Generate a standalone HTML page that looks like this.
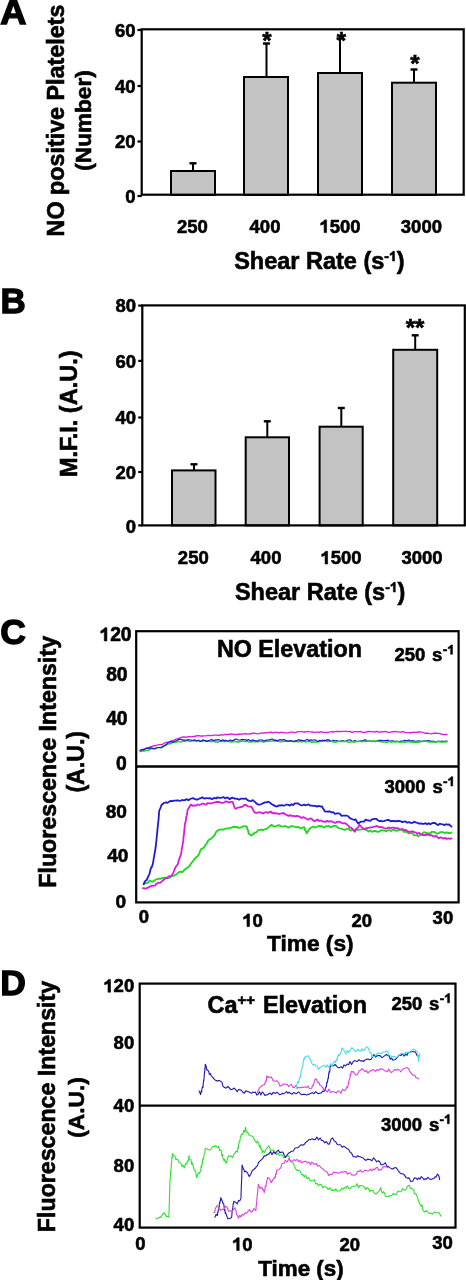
<!DOCTYPE html>
<html><head><meta charset="utf-8"><style>
html,body{margin:0;padding:0;background:#fff;}
body{width:466px;height:1280px;overflow:hidden;}
svg{display:block;will-change:transform;}
text{font-family:"Liberation Sans", sans-serif;font-weight:bold;fill:#000;stroke:#000;stroke-width:0.6px;}
.one{fill:none;stroke:none;}
.g1{fill:#000;stroke:#000;stroke-width:0.6px;vector-effect:non-scaling-stroke;}
</style></head><body>
<svg width="466" height="1280" viewBox="0 0 466 1280">
<text transform="translate(0,24.2) scale(1.05,1)" x="0.3" y="0" font-size="34.5" style="stroke-width:1.4px">A</text>
<text transform="translate(64,120.5) rotate(-90)" font-size="23.3" text-anchor="middle">NO positive Platelets</text>
<text transform="translate(91,120.5) rotate(-90)" font-size="22.6" text-anchor="middle">(Number)</text>
<rect x="171" y="171" width="44" height="24" fill="#c3c3c3" stroke="#000" stroke-width="2"/>
<line x1="193" y1="171" x2="193" y2="163.3" stroke="#000" stroke-width="2"/>
<line x1="189.5" y1="163.3" x2="196.5" y2="163.3" stroke="#000" stroke-width="2.4"/>
<rect x="244" y="77" width="44" height="118" fill="#c3c3c3" stroke="#000" stroke-width="2"/>
<line x1="266.5" y1="77" x2="266.5" y2="43.5" stroke="#000" stroke-width="2"/>
<line x1="263.0" y1="43.5" x2="270.0" y2="43.5" stroke="#000" stroke-width="2.4"/>
<rect x="318" y="73" width="44" height="122" fill="#c3c3c3" stroke="#000" stroke-width="2"/>
<line x1="340" y1="73" x2="340" y2="38.5" stroke="#000" stroke-width="2"/>
<line x1="336.5" y1="38.5" x2="343.5" y2="38.5" stroke="#000" stroke-width="2.4"/>
<rect x="392" y="82.7" width="44" height="112.3" fill="#c3c3c3" stroke="#000" stroke-width="2"/>
<line x1="414" y1="82.7" x2="414" y2="69.5" stroke="#000" stroke-width="2"/>
<line x1="410.5" y1="69.5" x2="417.5" y2="69.5" stroke="#000" stroke-width="2.4"/>
<rect x="141.7" y="29.3" width="322" height="165.4" fill="none" stroke="#000" stroke-width="2.2"/>
<line x1="137.5" y1="30" x2="141.7" y2="30" stroke="#000" stroke-width="2.2"/>
<line x1="137.5" y1="86" x2="141.7" y2="86" stroke="#000" stroke-width="2.2"/>
<line x1="137.5" y1="141.5" x2="141.7" y2="141.5" stroke="#000" stroke-width="2.2"/>
<line x1="137.5" y1="196" x2="141.7" y2="196" stroke="#000" stroke-width="2.2"/>
<text x="135.5" y="36.8" font-size="18.5" text-anchor="end" >60</text>
<text x="135.5" y="92.6" font-size="18.5" text-anchor="end" >40</text>
<text x="135.5" y="148" font-size="18.5" text-anchor="end" >20</text>
<text x="135.5" y="202.6" font-size="18.5" text-anchor="end" >0</text>
<text x="267" y="48.5" font-size="24" text-anchor="middle" >*</text>
<text x="341.3" y="49" font-size="24" text-anchor="middle" >*</text>
<text x="415" y="72" font-size="24" text-anchor="middle" >*</text>
<text x="192.4" y="232.6" font-size="18.5" text-anchor="middle" >250</text>
<text x="265" y="232.6" font-size="18.5" text-anchor="middle" >400</text>
<text x="340" y="232.6" font-size="18.5" text-anchor="middle" ><tspan class="one">1</tspan>500</text>
<text x="421.4" y="232.6" font-size="18.5" text-anchor="middle" >3000</text>
<text x="319.4" y="269" font-size="23.5" text-anchor="middle">Shear Rate (s<tspan font-size="14" dy="-8">-<tspan class="one">1</tspan></tspan><tspan dy="8">)</tspan></text>
<text x="0.5" y="313.2" font-size="35" text-anchor="start" style="stroke-width:1.3px">B</text>
<text transform="translate(76.5,413.8) rotate(-90)" font-size="23.5" text-anchor="middle">M.F.I. (A.U.)</text>
<rect x="172" y="470.4" width="43.5" height="55.0" fill="#c3c3c3" stroke="#000" stroke-width="2"/>
<line x1="194" y1="470.4" x2="194" y2="464.3" stroke="#000" stroke-width="2"/>
<line x1="190.5" y1="464.3" x2="197.5" y2="464.3" stroke="#000" stroke-width="2.4"/>
<rect x="245.7" y="437.3" width="43.30000000000001" height="88.09999999999997" fill="#c3c3c3" stroke="#000" stroke-width="2"/>
<line x1="267.3" y1="437.3" x2="267.3" y2="421.3" stroke="#000" stroke-width="2"/>
<line x1="263.8" y1="421.3" x2="270.8" y2="421.3" stroke="#000" stroke-width="2.4"/>
<rect x="319.6" y="426.7" width="43.099999999999966" height="98.69999999999999" fill="#c3c3c3" stroke="#000" stroke-width="2"/>
<line x1="341.3" y1="426.7" x2="341.3" y2="408" stroke="#000" stroke-width="2"/>
<line x1="337.8" y1="408" x2="344.8" y2="408" stroke="#000" stroke-width="2.4"/>
<rect x="393.2" y="349.8" width="44.0" height="175.59999999999997" fill="#c3c3c3" stroke="#000" stroke-width="2"/>
<line x1="415.2" y1="349.8" x2="415.2" y2="335.3" stroke="#000" stroke-width="2"/>
<line x1="411.7" y1="335.3" x2="418.7" y2="335.3" stroke="#000" stroke-width="2.4"/>
<rect x="142.3" y="305.4" width="322.5" height="220" fill="none" stroke="#000" stroke-width="2.2"/>
<line x1="138.2" y1="305.6" x2="142.3" y2="305.6" stroke="#000" stroke-width="2.2"/>
<line x1="138.2" y1="360.9" x2="142.3" y2="360.9" stroke="#000" stroke-width="2.2"/>
<line x1="138.2" y1="417.5" x2="142.3" y2="417.5" stroke="#000" stroke-width="2.2"/>
<line x1="138.2" y1="472" x2="142.3" y2="472" stroke="#000" stroke-width="2.2"/>
<line x1="138.2" y1="525.4" x2="142.3" y2="525.4" stroke="#000" stroke-width="2.2"/>
<text x="136" y="312.4" font-size="18.5" text-anchor="end" >80</text>
<text x="136" y="367.6" font-size="18.5" text-anchor="end" >60</text>
<text x="136" y="424" font-size="18.5" text-anchor="end" >40</text>
<text x="136" y="478.6" font-size="18.5" text-anchor="end" >20</text>
<text x="136" y="532.5" font-size="18.5" text-anchor="end" >0</text>
<text x="415" y="336.2" font-size="24" text-anchor="middle" >**</text>
<text x="193.3" y="564" font-size="18.5" text-anchor="middle" >250</text>
<text x="266" y="564" font-size="18.5" text-anchor="middle" >400</text>
<text x="341" y="564" font-size="18.5" text-anchor="middle" ><tspan class="one">1</tspan>500</text>
<text x="422" y="564" font-size="18.5" text-anchor="middle" >3000</text>
<text x="320.2" y="600" font-size="23.5" text-anchor="middle">Shear Rate (s<tspan font-size="14" dy="-8">-<tspan class="one">1</tspan></tspan><tspan dy="8">)</tspan></text>
<text x="0.2" y="644.3" font-size="35.5" text-anchor="start" style="stroke-width:1.3px">C</text>
<text transform="translate(55.5,761.8) rotate(-90)" font-size="23.25" text-anchor="middle">Fluorescence Intensity</text>
<text transform="translate(83.5,761.8) rotate(-90)" font-size="23.1" text-anchor="middle">(A.U.)</text>
<rect x="136.2" y="631.2" width="322.4" height="271.2" fill="none" stroke="#000" stroke-width="2.2"/>
<line x1="136.2" y1="766.5" x2="458.6" y2="766.5" stroke="#000" stroke-width="2.4"/>
<text x="131.6" y="641" font-size="19.3" text-anchor="end" ><tspan class="one">1</tspan>20</text>
<text x="127.6" y="680.8" font-size="19.3" text-anchor="end" >80</text>
<text x="127.6" y="725" font-size="19.3" text-anchor="end" >40</text>
<text x="126.8" y="769.6" font-size="19.3" text-anchor="end" >0</text>
<text x="126.9" y="817.6" font-size="19.1" text-anchor="end" >80</text>
<text x="128.4" y="862.3" font-size="19.1" text-anchor="end" >40</text>
<text x="126.1" y="908.3" font-size="19.1" text-anchor="end" >0</text>
<text x="289.4" y="657.1" font-size="23.3" text-anchor="middle" >NO Elevation</text>
<text x="394.5" y="661.3" font-size="18.5" text-anchor="start">250<tspan dx="1.6"> s</tspan><tspan font-size="13.5" dy="-7" dx="0.3">-<tspan class="one">1</tspan></tspan></text>
<text x="384.5" y="793" font-size="18.5" text-anchor="start">3000<tspan dx="1.6"> s</tspan><tspan font-size="13.5" dy="-7" dx="0.3">-<tspan class="one">1</tspan></tspan></text>
<text x="143.8" y="923.4" font-size="18.5" text-anchor="middle" >0</text>
<text x="252.6" y="926.6" font-size="18.5" text-anchor="middle" ><tspan class="one">1</tspan>0</text>
<text x="361.8" y="926.5" font-size="18.5" text-anchor="middle" >20</text>
<text x="442.9" y="924.3" font-size="18.5" text-anchor="middle" >30</text>
<text x="310.3" y="950.5" font-size="22.7" text-anchor="middle">Time (s)</text>
<polyline points="140.2,750.6 141.7,749.9 143.2,749.2 144.7,749.1 146.2,748.2 147.7,748.0 149.2,747.4 150.7,746.6 152.2,746.4 153.9,745.7 155.6,745.7 157.4,745.1 159.1,744.6 160.8,744.6 162.5,744.4 164.2,743.2 165.9,742.5 167.6,742.2 169.3,741.9 171.0,741.1 172.7,740.3 174.4,740.2 176.2,738.9 177.9,738.8 179.6,737.9 181.3,737.4 183.0,737.0 184.8,737.0 186.5,737.3 188.2,736.7 189.9,736.7 191.4,736.8 193.0,736.5 194.5,736.5 196.0,736.0 197.6,735.7 199.1,735.7 200.6,736.2 202.2,736.0 203.7,735.8 205.3,735.9 206.9,735.7 208.5,735.4 210.2,735.7 211.8,735.6 213.4,735.1 215.0,735.1 216.5,735.1 218.0,735.3 219.6,735.3 221.1,734.7 222.6,735.2 224.1,734.5 225.7,734.5 227.2,734.7 228.7,734.2 230.2,734.3 231.7,733.8 233.3,734.3 234.8,734.5 236.3,734.3 237.8,734.5 239.3,734.0 240.9,734.1 242.4,734.0 243.9,733.9 245.4,733.7 247.0,734.0 248.5,734.1 250.0,733.7 251.5,733.7 253.0,733.0 254.5,733.4 256.1,733.5 257.6,733.8 259.1,733.7 260.6,733.1 262.1,733.0 263.6,733.2 265.2,732.6 266.7,732.8 268.2,732.6 269.7,732.4 271.2,732.2 272.7,732.9 274.2,732.4 275.8,732.4 277.3,732.4 278.8,732.9 280.3,732.3 281.8,732.4 283.3,732.5 284.8,732.8 286.4,732.9 287.9,732.9 289.4,732.3 290.9,732.2 292.4,732.1 293.9,732.5 295.5,732.7 297.0,731.9 298.5,731.7 300.0,731.6 301.5,731.6 303.0,731.8 304.5,732.0 306.1,731.8 307.6,731.4 309.1,731.7 310.6,731.8 312.1,732.0 313.6,732.4 315.2,732.3 316.7,732.1 318.2,732.2 319.7,732.2 321.2,731.6 322.7,732.3 324.2,732.4 325.8,732.5 327.3,732.5 328.8,732.1 330.3,731.9 331.8,731.6 333.3,732.0 334.8,731.6 336.4,731.4 337.9,731.5 339.4,731.5 340.9,731.7 342.4,731.4 343.9,731.3 345.5,731.4 347.0,731.4 348.5,731.7 350.0,731.4 351.5,732.2 353.0,732.2 354.5,731.7 356.1,731.6 357.6,731.7 359.1,731.7 360.6,731.5 362.1,732.1 363.6,732.5 365.2,732.1 366.7,732.0 368.2,731.5 369.7,731.4 371.2,731.6 372.7,731.6 374.2,732.1 375.8,731.6 377.3,731.3 378.8,732.1 380.3,732.0 381.8,731.6 383.3,731.8 384.8,731.4 386.4,731.7 387.9,732.3 389.4,732.4 390.9,732.2 392.4,731.7 393.9,731.7 395.5,731.4 397.0,731.9 398.5,731.9 400.0,732.1 401.5,731.8 403.0,731.6 404.5,732.2 406.0,732.6 407.5,732.6 409.0,732.7 410.5,732.7 412.0,732.7 413.5,732.2 415.0,732.4 416.5,732.3 418.0,732.0 419.5,731.9 421.0,732.2 422.5,732.3 424.0,732.8 425.5,733.3 427.0,733.0 428.5,733.4 430.0,733.7 431.5,733.8 433.1,733.4 434.6,733.2 436.2,733.2 437.7,733.3 439.3,733.4 440.8,733.9 442.4,734.5 443.9,734.7 445.5,734.5 447.0,734.5" fill="none" stroke="#d81cd8" stroke-width="1.35" stroke-linejoin="round" stroke-linecap="round"/>
<polyline points="320.0,740.6 321.5,740.9 323.0,741.2 324.5,740.2 326.0,740.7 327.6,741.3 329.1,741.3 330.6,741.3 332.1,740.8 333.6,740.2 335.1,741.0 336.6,740.5 338.1,741.1 339.7,741.6 341.2,740.8 342.7,740.6 344.2,741.4 345.7,741.3 347.2,740.4 348.7,740.0 350.2,739.9 351.8,741.1 353.3,741.4 354.8,740.4 356.3,741.2 357.8,741.7 359.3,741.4 360.8,740.8 362.3,740.9 363.8,740.2 365.4,739.8 366.9,741.2 368.4,741.2 369.9,741.0 371.4,741.6 372.9,741.0 374.4,741.5 375.9,741.6 377.5,740.7 379.0,740.4 380.5,740.4 382.0,740.3 383.5,740.8 385.0,740.5 386.5,740.6 388.0,740.2 389.5,741.3 391.1,740.8 392.6,740.8 394.1,741.0 395.6,741.6 397.1,741.1 398.6,741.7 400.1,741.2 401.6,741.1 403.2,741.1 404.7,740.3 406.2,740.7 407.7,740.4 409.2,740.0 410.7,741.2 412.2,740.6 413.7,740.8 415.2,741.3 416.8,741.2 418.3,740.9 419.8,741.0 421.3,741.2 422.8,741.6 424.3,740.6 425.8,741.0 427.3,740.7 428.9,740.6 430.4,741.4 431.9,741.2 433.4,741.3 434.9,741.6 436.4,742.0 437.9,741.4 439.4,741.4 441.0,741.3 442.5,741.2 444.0,741.5 445.5,741.2 447.0,741.2" fill="none" stroke="#1c1cd0" stroke-width="1.2" stroke-linejoin="round" stroke-linecap="round"/>
<polyline points="140.2,751.5 141.7,751.2 143.2,750.7 144.7,750.9 146.2,750.4 147.7,750.2 149.2,750.0 150.7,748.8 152.2,748.6 153.9,748.9 155.6,748.8 157.4,747.9 159.1,747.4 160.8,747.5 162.5,746.3 164.2,745.6 165.9,744.5 167.6,744.3 169.3,743.8 171.0,743.7 172.7,742.5 174.5,742.5 176.2,742.2 177.9,741.3 179.6,741.8 181.3,741.9 183.1,741.0 184.8,741.4 186.5,740.8 188.0,740.8 189.5,741.4 191.0,741.4 192.5,740.7 194.0,740.8 195.5,741.0 197.0,740.8 198.5,740.6 200.0,740.8 201.5,741.3 203.0,740.7 204.5,741.1 206.0,741.2 207.5,740.7 209.0,741.0 210.5,741.5 212.0,741.5 213.5,741.0 215.0,742.0 216.5,742.1 218.0,742.3 219.6,741.4 221.1,741.2 222.6,740.9 224.1,741.7 225.6,741.4 227.1,741.1 228.7,741.3 230.2,742.0 231.7,742.1 233.2,741.5 234.7,741.1 236.2,741.9 237.8,741.8 239.3,741.9 240.8,741.2 242.3,740.9 243.8,741.6 245.4,741.5 246.9,741.1 248.4,741.9 249.9,741.9 251.4,742.1 252.9,741.3 254.5,741.9 256.0,741.2 257.5,741.9 259.0,741.6 260.5,741.4 262.1,741.6 263.6,742.1 265.1,741.5 266.6,741.1 268.1,741.5 269.6,741.2 271.2,741.0 272.7,741.0 274.2,740.8 275.7,741.0 277.2,741.2 278.8,741.2 280.3,741.8 281.8,741.4 283.3,741.5 284.8,741.2 286.3,741.3 287.9,740.9 289.4,741.1 290.9,740.8 292.4,741.6 293.9,741.7 295.4,741.2 297.0,741.4 298.5,742.1 300.0,741.3 301.5,741.9 303.0,741.6 304.5,741.6 306.0,742.0 307.5,741.6 309.0,741.6 310.5,741.8 312.0,742.3 313.5,741.7 315.0,742.0 316.5,742.0 318.0,741.9 319.5,741.6 321.0,741.4 322.5,741.0 324.0,741.0 325.5,740.9 327.0,741.7 328.5,741.4 330.0,741.1 331.5,741.0 333.0,741.8 334.5,742.2 336.0,742.0 337.5,741.5 339.0,741.3 340.5,741.3 342.0,741.5 343.5,741.2 345.0,741.4 346.5,741.3 348.0,742.1 349.5,742.4 351.0,742.0 352.5,741.5 354.0,742.2 355.5,741.6 357.0,741.5 358.5,741.0 360.0,741.3 361.5,741.5 363.0,741.6 364.5,741.3 366.0,741.6 367.5,741.1 369.0,741.2 370.5,741.0 372.0,741.3 373.5,741.0 375.0,740.9 376.5,741.2 378.0,741.2 379.5,741.6 381.0,741.7 382.5,742.0 384.0,742.0 385.5,742.1 387.0,742.3 388.5,741.8 390.0,741.5 391.5,742.2 393.0,741.5 394.5,741.9 396.0,742.0 397.5,741.3 399.0,742.0 400.5,742.3 402.0,742.1 403.5,742.1 405.0,742.3 406.5,741.5 408.0,741.7 409.5,741.7 411.0,742.1 412.5,742.3 414.0,742.3 415.5,742.1 417.0,742.3 418.5,742.2 420.0,742.1 421.5,741.6 423.0,741.1 424.5,741.1 426.0,741.4 427.5,741.2 429.0,742.0 430.5,741.9 432.0,742.0 433.5,742.0 435.0,742.1 436.5,741.9 438.0,741.2 439.5,741.9 441.0,742.1 442.5,741.9 444.0,741.9 445.5,742.0 447.0,741.8" fill="none" stroke="#1cd81c" stroke-width="1.5" stroke-linejoin="round" stroke-linecap="round"/>
<polyline points="140.2,750.6 141.7,749.5 143.2,750.1 144.7,749.2 146.2,748.3 147.7,748.1 149.2,748.7 150.7,747.7 152.2,748.1 153.9,748.7 155.6,748.0 157.4,747.5 159.1,747.5 160.8,747.8 162.5,747.1 164.2,746.0 165.9,745.1 167.6,743.1 169.3,741.9 171.0,741.6 172.7,742.1 174.5,741.2 176.2,741.1 177.9,739.7 179.6,739.3 181.3,739.4 183.1,740.1 184.8,740.2 186.5,740.1 188.2,739.7 189.9,740.0 191.6,740.2 193.3,740.3 195.0,739.9 196.5,741.0 198.1,740.2 199.6,741.2 201.2,741.5 202.7,739.9 204.2,740.2 205.8,740.9 207.3,741.4 208.8,740.6 210.4,740.0 211.9,739.6 213.5,740.8 215.0,739.9 216.5,740.2 218.0,739.6 219.6,740.0 221.1,741.0 222.6,739.8 224.1,740.6 225.6,740.4 227.1,741.0 228.7,740.8 230.2,739.9 231.7,740.8 233.2,740.4 234.7,739.4 236.2,739.0 237.8,739.8 239.3,740.0 240.8,739.8 242.3,739.4 243.8,739.6 245.4,739.7 246.9,740.6 248.4,739.5 249.9,740.4 251.4,740.9 252.9,739.8 254.5,740.8 256.0,740.8 257.5,741.1 259.0,740.1 260.5,740.0 262.1,739.9 263.6,741.0 265.1,740.6 266.6,740.1 268.1,740.0 269.6,739.7 271.2,739.2 272.7,739.1 274.2,740.4 275.7,739.9 277.2,740.9 278.8,740.0 280.3,739.7 281.8,740.0 283.3,739.6 284.8,739.8 286.3,740.9 287.9,741.1 289.4,741.1 290.9,740.7 292.4,741.1 293.9,741.3 295.4,740.7 297.0,740.8 298.5,739.6 300.0,740.4 301.5,740.2 303.0,740.7 304.5,740.7 306.0,740.0 307.5,739.4 309.0,740.8 310.5,739.8 312.0,740.1 313.5,740.0 315.0,739.9 316.5,740.7 318.0,741.4 319.5,740.4 321.0,740.7 322.5,740.2 324.0,740.5 325.5,740.4 327.0,739.9 328.5,739.7 330.0,740.6" fill="none" stroke="#1c1cd0" stroke-width="1.2" stroke-linejoin="round" stroke-linecap="round"/>
<polyline points="143.7,884.4 145.2,883.0 146.7,883.3 148.2,882.1 149.7,880.5 151.2,881.4 152.7,881.8 154.2,880.7 155.8,879.5 157.3,879.1 158.8,878.6 160.3,878.8 161.8,878.2 163.3,878.0 164.8,877.6 166.3,877.8 167.8,878.3 169.3,877.9 170.8,876.8 172.3,876.1 173.8,875.8 175.5,874.7 177.2,873.7 178.9,872.2 180.7,871.6 182.4,872.2 184.1,870.2 185.8,868.8 187.5,867.5 189.3,866.3 191.0,863.5 192.7,861.5 193.8,859.9 194.8,858.7 195.9,857.3 196.9,856.9 198.0,855.6 199.1,854.2 200.1,851.0 201.2,849.0 202.6,848.4 204.0,847.5 205.3,845.2 206.7,843.5 208.1,840.6 209.4,839.4 210.7,839.0 212.1,837.7 213.4,836.3 214.7,835.0 216.0,832.1 217.6,830.6 219.2,829.7 220.8,829.7 222.3,829.5 223.9,829.5 225.5,828.6 227.2,828.3 228.8,828.4 230.4,827.7 232.1,827.6 233.8,826.5 235.4,827.6 237.0,826.8 238.7,827.9 240.3,827.7 242.0,826.9 243.6,826.2 245.3,826.2 246.9,826.9 247.3,829.0 247.8,829.7 248.2,831.0 248.6,833.5 251.2,835.6 252.9,834.2 254.7,832.7 256.4,832.3 258.1,830.2 259.8,829.8 261.6,829.6 263.3,830.0 265.0,829.2 266.7,828.8 268.4,827.4 270.1,825.9 271.8,824.9 273.5,826.4 275.2,826.5 277.0,825.8 278.7,825.1 280.3,825.9 281.9,826.6 283.5,826.4 285.2,826.0 286.8,826.8 288.4,827.7 290.0,826.7 291.6,826.0 293.1,826.4 294.7,826.7 296.3,827.4 297.8,826.8 299.4,827.8 301.0,828.1 302.5,827.7 304.1,827.1 305.0,830.1 305.8,831.0 306.7,833.4 308.4,830.5 310.1,828.2 311.8,827.2 313.4,826.5 314.9,827.6 316.4,827.0 318.0,826.2 319.6,825.9 321.1,826.2 322.7,826.7 324.2,827.5 325.8,826.1 327.3,826.1 328.9,825.9 330.5,827.4 332.1,826.4 333.7,825.9 335.3,825.9 336.9,826.6 338.5,828.0 340.1,828.6 341.7,828.7 343.3,829.5 344.9,829.9 346.6,829.0 348.2,828.6 349.8,830.2 351.4,830.6 353.0,829.5 354.8,830.3 356.5,829.9 358.3,829.8 360.0,829.7 361.8,829.3 363.5,829.0 365.2,829.6 366.9,830.0 368.5,831.5 370.2,830.4 371.9,831.9 373.6,831.0 375.2,830.8 376.7,831.6 378.3,831.9 379.9,831.1 381.5,830.1 383.0,830.5 384.6,830.4 386.2,831.4 387.8,830.2 389.3,830.1 390.9,831.1 392.5,829.6 394.1,829.8 395.6,830.7 397.2,830.8 398.9,829.8 400.6,829.6 402.3,829.8 403.9,831.9 405.6,831.5 407.3,832.5 409.0,833.4 410.6,833.1 412.2,833.2 413.8,835.0 415.3,835.3 416.9,835.1 418.5,836.3 420.2,834.9 422.0,833.7 423.8,832.2 425.5,832.6 427.0,833.4 428.6,833.1 430.1,833.6 431.6,831.9 433.1,831.8 434.7,832.2 436.2,833.3 437.7,833.7 439.3,832.7 440.8,832.1 442.3,832.2 443.9,832.4 445.4,833.3 446.9,832.2 448.4,833.0 450.0,833.1 451.5,832.5" fill="none" stroke="#1cd81c" stroke-width="1.8" stroke-linejoin="round" stroke-linecap="round"/>
<polyline points="142.9,888.2 144.6,888.5 146.3,888.3 148.1,887.6 149.8,886.6 151.5,886.0 153.2,885.7 154.9,885.7 156.6,883.7 158.3,882.7 160.1,882.9 161.8,881.4 163.5,880.0 165.2,878.3 166.9,877.9 168.6,876.4 170.3,876.3 172.0,875.1 173.0,873.7 174.1,870.7 175.1,868.1 176.2,866.1 177.2,865.1 177.8,864.1 178.3,862.1 178.9,859.8 179.5,858.3 180.0,857.0 180.6,855.6 180.9,854.3 181.2,853.1 181.5,851.3 181.8,848.6 182.0,848.1 182.3,845.8 182.6,844.6 182.9,842.8 183.2,841.9 183.4,839.5 183.5,837.7 183.7,836.1 183.8,834.3 184.0,834.1 184.1,832.4 184.3,830.3 184.4,828.7 184.6,828.3 184.7,826.2 184.9,823.9 185.2,823.2 185.5,821.7 185.8,820.9 186.1,817.8 186.3,816.5 186.6,815.7 186.9,814.5 187.2,813.3 187.5,810.1 188.6,808.3 189.8,806.2 190.9,804.5 192.6,805.8 194.4,805.3 196.1,805.6 197.8,804.5 199.5,805.0 201.3,804.2 203.0,803.5 204.7,804.1 206.3,804.6 207.9,803.0 209.5,803.4 211.2,803.5 212.8,802.7 214.4,802.6 216.0,802.0 217.6,802.0 219.3,802.0 220.9,802.7 222.5,803.0 224.2,802.2 225.8,801.4 227.4,801.8 229.0,802.6 230.7,801.9 232.3,801.8 233.2,803.4 234.1,806.3 234.9,808.0 235.8,808.8 237.5,807.7 239.2,807.4 240.9,807.0 242.6,806.6 244.3,804.8 246.0,805.0 247.8,806.4 249.5,806.6 251.2,806.7 252.6,808.6 254.1,811.8 255.5,812.9 257.0,812.9 258.5,812.4 260.0,812.2 261.5,812.9 263.1,813.6 264.6,812.6 266.2,812.0 267.8,812.9 269.3,812.2 270.9,811.6 272.4,813.3 274.0,812.9 275.6,813.7 277.1,813.2 278.7,814.0 280.3,813.7 281.9,813.3 283.5,813.0 285.2,814.3 286.8,815.1 288.4,816.1 290.0,815.1 291.6,815.9 293.3,815.8 294.9,816.3 296.6,815.8 298.2,816.1 299.9,816.9 301.5,818.1 303.1,817.1 304.7,817.8 306.3,818.8 307.9,819.7 309.6,818.7 311.2,818.4 312.8,820.2 314.4,821.1 316.0,820.4 317.6,819.5 319.2,821.0 320.9,820.5 322.5,821.5 324.1,821.4 325.7,821.9 327.3,820.8 328.9,821.8 330.5,821.1 332.1,821.4 333.7,822.4 335.3,822.9 336.9,821.8 338.5,821.7 340.1,822.1 341.7,822.9 343.2,823.3 344.8,823.2 346.3,823.8 347.9,825.3 349.6,827.5 351.3,827.6 353.0,829.7 354.7,831.8 356.3,828.6 357.8,827.8 359.4,824.8 361.0,826.6 362.6,827.9 364.2,829.3 365.8,828.3 367.3,827.9 368.9,827.9 370.5,827.3 372.0,827.3 373.6,826.6 375.3,826.6 377.0,825.9 378.7,827.0 380.3,827.2 382.0,826.9 383.7,828.0 385.4,828.5 387.1,828.1 388.8,827.6 390.5,828.1 392.1,827.6 393.8,827.6 395.5,828.3 397.2,828.0 398.9,828.9 400.6,829.5 402.3,829.0 403.9,830.2 405.6,829.8 407.3,831.1 409.0,831.9 410.7,831.9 412.4,831.2 414.1,832.1 415.7,832.3 417.4,833.8 419.1,832.9 420.8,834.3 422.5,835.1 424.2,834.9 425.9,835.2 427.5,834.1 429.2,835.4 430.9,835.0 432.6,835.9 434.2,836.7 435.8,835.8 437.4,837.1 438.9,838.3 440.5,837.3 442.1,837.9 443.7,838.7 445.2,837.8 446.8,839.0 448.4,838.2 449.9,838.9 451.5,838.4" fill="none" stroke="#d81cd8" stroke-width="1.8" stroke-linejoin="round" stroke-linecap="round"/>
<polyline points="143.7,884.1 144.7,881.7 145.8,880.5 146.8,879.9 147.9,877.1 148.9,875.2 149.4,874.1 149.9,872.3 150.3,870.2 150.8,868.7 151.3,867.2 151.8,867.2 152.2,865.7 152.7,864.6 153.2,861.8 153.4,861.0 153.7,858.4 153.9,857.3 154.2,856.2 154.4,854.2 154.7,853.5 154.9,851.7 155.2,850.1 155.4,849.1 155.7,846.2 155.9,846.0 156.0,844.1 156.2,842.0 156.4,841.0 156.5,838.6 156.7,838.2 156.8,836.2 157.0,834.1 157.2,833.1 157.3,831.1 157.5,828.9 157.7,828.2 157.8,825.6 158.0,825.2 158.1,822.9 158.3,821.8 158.4,821.1 158.6,819.1 158.7,817.5 158.9,815.2 159.0,812.8 159.2,811.0 159.7,809.5 160.2,808.8 160.8,807.1 161.3,805.5 161.8,804.7 163.9,803.0 166.0,802.4 167.6,802.9 169.2,801.6 170.8,800.9 172.4,801.2 174.1,800.6 175.7,800.7 177.3,800.3 178.9,800.7 180.5,800.8 182.0,799.9 183.6,800.3 185.2,800.0 186.7,799.1 188.3,800.3 189.8,799.2 191.4,798.5 193.0,798.1 194.5,798.9 196.1,799.5 197.6,799.5 199.2,798.7 200.7,798.2 202.2,797.4 203.8,798.3 205.3,798.5 206.8,798.0 208.3,798.4 209.9,798.1 211.4,799.0 212.9,798.8 214.5,797.7 216.0,798.6 217.5,797.3 219.0,797.8 220.6,797.8 222.1,797.5 223.6,797.1 225.1,798.4 226.7,797.4 228.2,798.1 229.7,799.2 231.2,798.0 232.8,797.7 234.3,798.5 235.8,798.6 237.5,799.0 239.1,799.6 240.8,798.7 242.4,798.7 244.0,798.8 245.7,798.4 247.5,800.2 249.3,800.9 251.0,801.2 252.8,800.1 254.6,801.6 256.4,803.4 258.1,804.6 259.8,804.7 261.5,804.0 263.2,803.1 265.0,802.4 266.7,802.3 268.4,801.7 270.1,802.7 271.8,804.3 273.6,805.1 275.3,806.1 277.0,806.5 278.6,805.4 280.2,805.5 281.9,805.2 283.5,805.7 285.1,805.3 286.8,804.5 288.4,804.9 290.0,805.6 291.6,804.2 293.2,805.0 294.8,803.4 296.4,803.3 297.9,803.3 299.5,804.5 301.0,805.3 302.6,805.3 304.1,804.5 305.6,805.5 307.2,804.8 308.7,804.4 310.3,805.7 311.8,805.7 313.5,805.9 315.2,805.9 317.0,806.6 318.7,805.9 320.4,806.5 322.1,806.5 323.0,808.5 323.8,809.4 324.7,811.4 326.4,811.7 328.1,811.5 329.9,811.5 331.6,812.6 333.3,812.2 335.0,814.0 336.6,813.4 338.2,813.3 339.8,813.7 341.4,815.8 343.1,815.7 344.7,815.6 346.3,815.6 347.9,816.0 349.4,817.7 351.0,818.6 352.5,819.3 354.1,820.0 355.6,819.3 356.9,821.8 358.2,823.5 360.7,821.7 362.3,821.7 364.0,821.6 365.6,819.7 367.3,820.4 368.9,820.5 370.4,820.9 371.9,819.4 373.4,819.1 374.9,818.9 376.4,818.8 377.9,820.4 379.4,821.0 380.9,820.9 382.4,821.3 383.9,821.1 385.4,820.5 387.1,820.0 388.8,819.9 390.5,821.3 392.1,820.8 393.8,821.0 395.5,821.4 397.2,820.8 398.9,821.0 400.6,821.2 402.3,822.1 403.9,821.7 405.6,821.5 407.3,822.7 409.0,822.2 410.7,822.9 412.4,822.9 414.1,821.8 415.7,822.4 417.4,822.8 419.1,823.7 420.8,823.4 422.4,823.9 423.9,823.8 425.5,823.2 427.1,824.3 428.7,823.2 430.2,824.3 431.8,823.4 433.4,822.8 435.0,823.0 436.6,824.3 438.1,825.2 439.7,823.6 441.3,824.1 442.8,824.3 444.4,825.1 446.0,824.2 447.5,824.6 449.1,824.5 451.5,826.6" fill="none" stroke="#1c1cd0" stroke-width="1.8" stroke-linejoin="round" stroke-linecap="round"/>
<text x="0.2" y="994.8" font-size="35.5" text-anchor="start" style="stroke-width:1.3px">D</text>
<text transform="translate(55,1106.5) rotate(-90)" font-size="23.2" text-anchor="middle">Fluorescence Intensity</text>
<text transform="translate(83.5,1107.5) rotate(-90)" font-size="22.7" text-anchor="middle">(A.U.)</text>
<rect x="139.7" y="983.6" width="315.8" height="244" fill="none" stroke="#000" stroke-width="2.2"/>
<line x1="139.7" y1="1105.6" x2="455.5" y2="1105.6" stroke="#000" stroke-width="2.4"/>
<text x="134.2" y="992.2" font-size="18.5" text-anchor="end" ><tspan class="one">1</tspan>20</text>
<text x="134.2" y="1049.4" font-size="18.5" text-anchor="end" >80</text>
<text x="134.2" y="1112.2" font-size="18.5" text-anchor="end" >40</text>
<text x="134.2" y="1172" font-size="18.5" text-anchor="end" >80</text>
<text x="134.2" y="1231" font-size="18.5" text-anchor="end" >40</text>
<text x="207.5" y="1013.3" font-size="23.4">Ca<tspan font-size="15" dy="-8.5">++</tspan><tspan dy="8.5" dx="1.5"> Elevation</tspan></text>
<text x="391.5" y="1009.8" font-size="18.5" text-anchor="start">250<tspan dx="1.6"> s</tspan><tspan font-size="13.5" dy="-7" dx="0.3">-<tspan class="one">1</tspan></tspan></text>
<text x="381" y="1130.7" font-size="18.5" text-anchor="start">3000<tspan dx="1.6"> s</tspan><tspan font-size="13.5" dy="-7" dx="0.3">-<tspan class="one">1</tspan></tspan></text>
<text x="140.3" y="1250" font-size="18.5" text-anchor="middle" >0</text>
<text x="242.3" y="1250.5" font-size="18.5" text-anchor="middle" ><tspan class="one">1</tspan>0</text>
<text x="349.8" y="1251.3" font-size="18.5" text-anchor="middle" >20</text>
<text x="442.5" y="1249" font-size="18.5" text-anchor="middle" >30</text>
<text x="301" y="1276.3" font-size="22.4" text-anchor="middle">Time (s)</text>
<polyline points="199.0,1090.9 200.6,1094.6 201.1,1091.1 201.6,1092.3 202.0,1088.5 202.5,1086.9 203.0,1087.5 203.1,1085.4 203.3,1082.6 203.4,1083.2 203.6,1079.8 203.7,1081.1 203.9,1079.5 204.0,1078.5 204.2,1076.5 204.3,1074.2 204.4,1073.0 204.6,1071.7 204.7,1072.2 204.9,1067.8 205.0,1069.5 205.2,1064.9 205.3,1064.3 206.1,1066.1 206.9,1070.1 207.7,1070.1 208.6,1071.1 209.4,1074.5 210.3,1073.5 211.2,1075.9 212.8,1077.3 214.4,1079.4 216.0,1080.6 217.6,1080.9 219.1,1080.6 220.7,1081.2 221.9,1082.2 223.0,1086.4 224.2,1087.3 226.0,1088.2 227.8,1086.5 229.4,1088.0 230.9,1089.6 232.5,1089.3 234.1,1088.0 235.6,1089.7 237.2,1091.7 238.6,1089.5 240.0,1089.7 241.5,1090.5 242.9,1092.3 244.3,1093.2 245.7,1090.9 247.1,1091.2 248.6,1091.8 250.0,1092.4 251.4,1093.4 252.7,1092.0 254.1,1092.6 255.4,1092.1 256.8,1095.1 258.1,1094.2 259.5,1091.8 260.8,1095.1 262.2,1091.9 263.5,1093.1 264.9,1095.5 266.2,1094.9 267.6,1094.8 268.9,1093.8 270.3,1093.0 271.6,1094.7 273.0,1092.6 274.3,1092.9 275.7,1093.5 277.0,1092.1 278.4,1093.4 279.7,1094.8 281.1,1094.3 282.4,1093.4 283.8,1093.7 285.1,1092.9 286.5,1091.6 287.8,1093.2 289.2,1092.2 290.6,1093.6 292.0,1094.3 293.4,1092.5 294.8,1093.1 296.2,1093.8 297.6,1092.6 299.0,1092.0 300.5,1094.0 302.0,1094.7 303.5,1094.4 305.0,1094.2 306.5,1094.9 308.0,1094.4 309.5,1094.1 311.0,1093.3 312.5,1092.6 314.0,1093.7 315.5,1091.6 317.0,1092.7 318.5,1093.8 320.0,1093.2 321.5,1092.7 323.0,1090.9 324.5,1091.3 324.9,1090.1 325.2,1089.4 325.6,1087.3 326.0,1087.0 326.4,1086.6 326.8,1082.4 327.1,1082.9 327.5,1082.1 327.8,1079.2 328.0,1078.2 328.3,1078.7 328.6,1073.8 328.9,1074.3 329.1,1071.5 329.4,1072.5 329.7,1071.8 330.0,1068.8 330.2,1065.8 330.5,1066.3 332.0,1065.7 333.5,1065.8 335.0,1064.5 336.5,1066.0 338.1,1067.8 339.6,1067.6 341.1,1066.7 342.5,1068.2 344.0,1064.9 345.5,1066.0 347.0,1064.1 348.5,1064.7 350.0,1061.6 351.5,1064.6 353.0,1062.0 354.5,1060.6 356.0,1061.1 357.5,1061.4 359.0,1059.7 360.5,1060.9 362.0,1060.7 363.5,1061.5 365.0,1059.9 366.5,1059.4 368.0,1059.0 369.5,1059.8 371.0,1059.4 372.5,1056.7 374.0,1054.4 375.5,1057.0 377.0,1055.8 378.5,1055.5 380.0,1055.6 381.6,1057.4 383.2,1056.9 384.8,1055.6 386.4,1054.4 387.7,1055.8 389.0,1055.5 390.3,1059.3 391.6,1058.0 392.9,1060.1 394.5,1059.8 396.1,1058.9 397.7,1056.6 399.3,1054.9 400.9,1055.6 402.5,1053.7 404.1,1056.1 405.7,1053.9 407.0,1055.3 408.3,1052.6 409.6,1052.5 410.9,1051.5 412.2,1051.6 413.8,1051.7 415.4,1051.9 417.0,1055.6 418.6,1055.7" fill="none" stroke="#2018b0" stroke-width="1.1" stroke-linejoin="round" stroke-linecap="round"/>
<polyline points="257.3,1092.6 258.2,1090.3 259.1,1088.7 259.9,1087.4 260.8,1086.6 262.6,1085.2 264.4,1084.8 264.9,1083.6 265.4,1081.1 265.9,1081.9 266.4,1080.3 266.9,1075.9 267.4,1077.5 267.9,1076.4 269.6,1077.7 271.4,1077.0 273.2,1080.9 275.0,1081.3 276.8,1080.7 278.5,1082.4 280.0,1086.3 281.4,1085.5 282.9,1084.3 284.4,1084.0 285.8,1084.2 287.2,1084.5 288.6,1086.6 290.0,1085.0 291.5,1084.5 293.0,1087.6 294.5,1087.4 296.0,1085.3 297.5,1088.3 299.0,1087.4 300.5,1087.7 302.0,1086.9 303.5,1087.4 305.0,1086.7 306.5,1087.6 308.0,1086.0 309.5,1088.6 311.0,1088.7 311.8,1088.0 312.5,1085.4 313.2,1085.6 314.0,1082.8 314.8,1080.2 315.5,1078.6 316.6,1079.7 317.8,1082.6 318.9,1082.4 320.0,1085.5 321.5,1085.7 323.0,1088.5 324.5,1090.0 326.0,1090.5 327.5,1092.0 329.0,1089.1 330.5,1092.6 332.0,1091.5 333.5,1091.8 335.0,1092.2 336.5,1092.9 338.0,1091.1 339.5,1091.3 341.0,1093.4 342.5,1089.2 344.0,1090.6 345.5,1089.9 347.0,1086.8 347.4,1087.6 347.7,1086.5 348.1,1086.1 348.4,1082.4 348.8,1083.5 349.1,1080.3 349.5,1078.8 349.8,1079.0 350.2,1074.4 350.5,1075.6 350.9,1073.8 351.2,1071.4 351.6,1072.0 353.1,1071.6 354.5,1073.4 356.0,1075.1 357.5,1074.5 359.0,1070.9 360.5,1070.3 362.0,1068.7 363.5,1070.0 365.0,1071.7 366.5,1070.5 368.0,1073.2 369.5,1071.1 371.0,1071.0 372.5,1069.6 374.0,1070.0 375.5,1071.3 377.0,1069.6 378.5,1070.4 380.0,1068.9 381.5,1069.1 383.0,1069.3 384.5,1070.7 386.0,1071.1 387.4,1071.8 388.8,1069.1 390.1,1071.8 391.5,1072.5 392.9,1071.4 394.5,1069.5 396.1,1070.4 397.7,1069.3 399.3,1070.0 400.8,1071.8 402.4,1069.5 403.9,1068.7 405.5,1068.1 407.0,1067.6 407.8,1067.7 408.6,1069.0 409.3,1070.4 410.1,1071.9 410.9,1072.9 412.8,1075.1 414.7,1075.2 416.0,1077.8 417.3,1077.9 418.6,1078.9" fill="none" stroke="#e040e0" stroke-width="1.1" stroke-linejoin="round" stroke-linecap="round"/>
<polyline points="296.0,1088.6 296.4,1088.2 296.9,1084.4 297.4,1083.3 297.8,1081.4 298.2,1082.8 298.7,1082.0 299.1,1079.7 299.6,1077.2 300.1,1077.6 300.5,1076.1 300.8,1073.9 301.1,1071.5 301.4,1070.3 301.7,1069.5 302.0,1067.8 302.3,1066.9 302.6,1066.4 302.9,1066.2 303.2,1061.6 303.5,1062.3 303.8,1058.9 304.1,1058.0 304.4,1059.3 304.7,1057.1 305.0,1057.1 306.5,1056.3 308.0,1055.7 309.5,1058.1 310.6,1060.3 311.8,1063.2 312.9,1064.8 314.0,1064.4 315.5,1065.7 317.0,1066.0 318.5,1069.5 320.0,1067.4 321.5,1066.7 323.0,1065.7 324.5,1065.2 326.0,1067.4 327.5,1064.9 329.0,1067.8 330.5,1063.7 332.0,1065.9 333.5,1062.3 335.0,1061.2 335.7,1062.5 336.4,1059.3 337.1,1059.8 337.8,1056.4 338.5,1054.5 339.1,1055.9 339.8,1054.3 340.5,1053.4 341.2,1051.6 341.9,1047.8 342.6,1048.5 343.6,1050.3 344.6,1050.9 345.6,1054.1 347.1,1050.6 348.5,1052.3 350.0,1050.3 351.5,1047.9 353.0,1048.2 354.5,1050.8 356.0,1051.7 357.5,1049.2 359.0,1050.3 360.5,1051.4 362.0,1048.7 363.5,1050.9 365.0,1048.9 366.5,1046.8 368.0,1047.5 368.8,1049.8 369.5,1050.8 370.3,1053.2 371.1,1052.7 371.8,1056.6 372.6,1056.5 374.1,1056.6 375.5,1055.5 377.0,1053.7 378.5,1052.8 380.0,1053.6 381.5,1053.4 383.0,1052.1 384.7,1051.7 386.4,1051.1 387.7,1051.3 389.0,1055.7 390.3,1055.7 391.6,1057.2 392.9,1056.4 394.5,1056.8 396.1,1057.6 397.7,1056.4 399.3,1054.9 400.9,1053.3 402.5,1053.2 404.1,1054.5 405.7,1052.0 407.0,1052.8 408.3,1052.1 409.6,1052.9 410.9,1052.1 412.2,1049.8 413.9,1049.1 415.6,1050.6 417.3,1051.6 417.5,1053.6 417.7,1055.9 418.0,1057.5 418.2,1055.7 418.4,1060.1 418.6,1061.4 418.9,1060.2 419.1,1057.7 419.4,1055.1 419.6,1055.9 419.9,1053.2" fill="none" stroke="#40e0e8" stroke-width="1.1" stroke-linejoin="round" stroke-linecap="round"/>
<polyline points="155.9,1218.6 157.5,1218.8 159.0,1217.4 160.6,1217.4 162.4,1214.5 164.2,1212.7 166.5,1216.4 168.9,1216.9 168.9,1213.3 169.0,1214.1 169.0,1213.4 169.1,1209.4 169.1,1209.5 169.2,1208.4 169.2,1206.2 169.2,1203.9 169.3,1202.8 169.3,1203.3 169.4,1202.1 169.4,1199.5 169.4,1196.7 169.5,1198.1 169.5,1196.6 169.6,1193.2 169.6,1193.2 169.7,1193.1 169.7,1191.7 169.7,1189.0 169.8,1187.4 169.8,1186.5 169.9,1183.7 169.9,1182.3 170.0,1180.9 170.0,1181.6 170.1,1178.9 170.2,1178.3 170.4,1176.4 170.5,1175.4 170.6,1172.7 170.7,1170.9 170.8,1173.2 171.0,1169.5 171.1,1167.1 171.2,1167.8 171.3,1167.0 171.4,1163.2 171.6,1163.6 171.7,1161.2 171.8,1160.5 171.9,1157.3 172.0,1156.0 172.2,1158.3 172.3,1156.4 172.4,1153.6 173.6,1155.5 174.8,1155.9 176.0,1159.5 177.6,1159.3 179.1,1162.4 180.7,1162.9 181.4,1164.5 182.1,1166.5 182.8,1165.2 183.5,1165.8 184.2,1167.9 184.7,1166.5 185.3,1164.8 185.8,1163.4 186.3,1164.0 186.9,1163.9 187.4,1161.0 187.9,1161.5 188.5,1160.1 189.0,1155.5 189.7,1158.9 190.3,1159.5 191.0,1159.8 191.7,1164.4 192.4,1163.1 193.0,1165.6 193.7,1167.2 194.1,1169.8 194.6,1170.0 195.0,1170.3 195.4,1171.8 195.9,1172.0 196.3,1176.4 196.8,1177.8 197.2,1176.2 197.8,1174.2 198.4,1173.6 199.0,1172.6 199.6,1173.3 200.2,1171.9 200.8,1170.3 201.1,1165.9 201.4,1167.4 201.7,1165.8 202.1,1164.2 202.4,1164.2 202.7,1159.3 203.0,1158.3 203.3,1159.3 203.6,1158.7 203.9,1156.3 204.2,1153.6 204.6,1153.3 204.9,1152.6 205.2,1148.8 205.5,1148.3 207.2,1149.2 209.0,1149.9 210.8,1149.5 212.6,1146.5 214.2,1146.4 215.7,1145.6 217.3,1147.3 218.5,1146.3 219.6,1150.6 220.8,1150.1 221.3,1150.8 221.8,1155.5 222.4,1154.2 222.9,1158.2 223.4,1159.2 223.9,1160.6 224.5,1159.1 225.0,1161.6 225.5,1161.6 226.1,1163.4 226.7,1161.7 227.3,1159.5 227.9,1157.5 228.5,1155.7 229.1,1156.1 230.8,1156.0 232.6,1157.7 233.8,1154.4 234.9,1153.2 236.1,1151.1 237.3,1152.1 237.6,1150.1 238.0,1147.2 238.3,1148.5 238.6,1144.8 238.9,1144.0 239.3,1141.6 239.6,1140.7 239.9,1141.5 240.2,1138.2 240.6,1136.1 240.9,1136.0 241.8,1133.9 242.8,1134.7 243.7,1130.3 244.7,1132.1 245.6,1127.2 246.3,1131.8 247.0,1132.4 247.8,1132.1 248.5,1134.5 249.2,1135.2 250.6,1135.7 251.9,1136.0 253.3,1137.2 254.7,1140.2 255.6,1141.6 256.6,1142.8 257.5,1141.0 258.5,1143.2 259.4,1146.9 260.1,1145.1 260.8,1149.1 261.6,1148.9 262.3,1152.9 263.0,1150.7 264.5,1152.5 265.9,1149.5 267.4,1147.6 268.9,1145.9 270.5,1150.2 272.0,1150.2 273.6,1150.1 275.0,1152.0 276.4,1154.7 277.9,1153.0 279.3,1155.3 280.7,1154.6 282.1,1155.0 283.5,1157.5 285.0,1157.5 286.4,1155.8 287.8,1155.6 289.0,1157.1 290.1,1160.6 291.3,1161.6 292.5,1162.2 293.4,1163.4 294.4,1166.4 295.3,1168.1 296.3,1170.0 297.2,1170.5 298.6,1170.2 300.0,1170.9 301.5,1174.6 302.9,1174.6 304.3,1176.9 305.7,1175.1 307.1,1178.7 308.6,1177.6 310.0,1180.2 311.4,1181.0 312.8,1180.5 314.2,1179.7 315.7,1184.0 317.1,1183.4 318.5,1185.8 319.9,1184.2 321.3,1184.6 322.7,1187.8 324.1,1186.7 325.5,1186.6 327.0,1188.0 328.4,1189.5 329.9,1187.8 331.4,1190.4 332.9,1190.1 334.4,1190.4 335.8,1188.9 337.3,1191.1 338.7,1191.0 340.1,1190.7 341.6,1188.2 343.0,1189.2 344.4,1187.4 345.8,1188.6 347.2,1185.8 348.7,1188.6 350.1,1188.7 351.5,1186.7 352.9,1186.5 354.3,1186.2 355.7,1185.9 357.1,1183.7 358.5,1187.8 359.9,1185.4 361.4,1185.7 362.8,1185.9 364.2,1187.0 365.6,1189.8 367.0,1187.5 368.4,1188.5 369.8,1191.5 371.2,1190.2 372.8,1190.4 374.4,1193.4 376.0,1194.1 377.6,1192.3 379.1,1191.4 380.7,1187.6 381.6,1191.9 382.6,1192.8 383.5,1191.6 384.5,1193.3 385.4,1196.2 387.0,1196.6 388.5,1196.1 390.1,1195.9 391.7,1195.8 393.3,1193.6 394.9,1194.1 396.5,1194.4 398.0,1190.9 399.6,1191.7 401.2,1191.6 402.7,1188.6 404.3,1190.3 405.9,1189.6 407.4,1186.3 409.0,1185.2 410.6,1188.4 412.1,1188.8 413.7,1189.9 414.4,1193.3 415.1,1194.0 415.8,1193.7 416.4,1194.7 417.1,1196.4 417.8,1198.1 418.5,1201.5 419.2,1202.2 419.8,1204.0 420.5,1205.0 421.2,1206.4 421.9,1204.8 422.5,1207.9 423.2,1210.9 424.8,1212.0 426.3,1210.6 427.9,1212.4 429.5,1213.6 431.0,1213.0 432.6,1214.0 434.2,1211.9 435.7,1212.8 437.3,1212.7 439.1,1212.6 440.9,1216.2" fill="none" stroke="#30e030" stroke-width="1.1" stroke-linejoin="round" stroke-linecap="round"/>
<polyline points="214.9,1217.4 216.1,1214.3 217.3,1215.7 217.6,1213.6 217.9,1212.8 218.3,1210.2 218.6,1209.5 218.9,1208.4 219.2,1207.0 219.5,1202.3 219.8,1203.2 220.2,1200.4 220.5,1200.6 220.8,1197.6 222.0,1200.5 223.2,1203.7 223.5,1203.9 223.7,1203.8 224.0,1206.1 224.2,1207.1 224.5,1210.4 224.7,1209.2 225.0,1210.5 225.2,1213.1 225.5,1212.5 226.7,1215.8 227.9,1218.8 229.1,1218.7 231.4,1217.7 231.6,1217.1 231.8,1216.0 232.0,1213.2 232.1,1211.7 232.3,1210.4 232.5,1209.6 232.7,1208.7 232.9,1206.9 233.1,1205.4 233.2,1203.4 233.4,1203.8 233.6,1203.6 233.8,1201.3 235.6,1202.3 237.3,1203.8 238.5,1200.5 239.7,1200.9 240.9,1198.4 241.0,1197.4 241.0,1196.3 241.1,1194.4 241.1,1192.5 241.2,1190.9 241.2,1189.5 241.2,1189.3 241.3,1187.5 241.3,1186.9 241.4,1183.4 241.4,1183.4 241.5,1184.0 241.6,1180.3 241.6,1180.2 241.7,1178.6 241.7,1176.5 241.8,1177.8 241.8,1173.9 241.8,1174.4 241.9,1170.7 241.9,1169.0 242.0,1170.8 242.0,1167.8 242.1,1165.0 243.0,1167.7 243.8,1169.4 244.7,1172.0 245.6,1171.1 247.4,1172.7 249.2,1176.6 250.8,1174.2 252.3,1170.5 253.9,1169.6 254.7,1168.3 255.5,1168.2 256.3,1166.6 257.0,1166.2 257.8,1164.7 258.6,1162.2 259.4,1161.7 261.0,1160.1 262.6,1158.6 264.2,1155.9 265.8,1155.9 267.3,1154.5 268.9,1154.1 270.5,1151.5 272.0,1154.7 273.6,1151.8 275.2,1153.5 276.7,1151.6 278.3,1150.1 279.9,1152.7 281.4,1152.0 283.0,1152.2 284.2,1155.3 285.4,1157.4 287.0,1155.2 288.5,1153.2 290.1,1152.3 291.7,1151.2 293.3,1151.0 294.9,1148.2 296.5,1147.8 298.0,1147.6 299.6,1146.2 301.2,1144.7 302.7,1145.3 304.3,1144.3 305.9,1142.2 307.4,1141.3 309.0,1139.5 310.6,1139.6 312.1,1138.6 313.7,1139.8 315.3,1139.4 316.9,1137.1 318.5,1139.9 320.1,1138.0 321.6,1140.4 323.2,1140.8 324.8,1142.8 326.3,1141.5 327.9,1143.9 329.5,1144.2 331.0,1139.2 332.6,1137.8 334.2,1140.9 335.7,1141.8 337.3,1144.6 338.9,1144.8 340.5,1144.7 342.1,1147.3 343.7,1146.3 345.2,1147.1 346.8,1148.5 348.0,1148.9 349.1,1150.2 350.3,1152.6 351.5,1153.1 353.1,1156.6 354.6,1156.7 356.2,1157.3 357.6,1155.7 359.0,1156.7 360.4,1156.8 361.8,1157.4 363.2,1158.0 364.6,1159.6 366.1,1160.4 367.5,1159.1 368.9,1159.4 370.5,1159.7 372.0,1160.7 373.6,1157.8 375.2,1159.7 376.7,1161.9 378.3,1160.6 379.7,1161.7 381.1,1164.7 382.6,1164.6 384.0,1163.9 385.4,1162.8 387.0,1166.6 388.5,1166.6 390.1,1167.9 391.7,1168.9 393.3,1168.9 394.9,1167.5 396.5,1168.1 398.0,1170.2 399.6,1172.6 401.2,1173.8 402.7,1173.7 404.3,1174.9 405.9,1177.4 407.4,1178.1 409.0,1177.9 410.8,1181.5 412.6,1181.3 414.4,1177.9 416.1,1178.2 417.4,1179.6 418.7,1177.8 420.0,1179.2 421.3,1176.6 422.7,1177.8 424.0,1179.8 425.3,1178.8 426.6,1179.1 427.9,1177.3 429.5,1178.9 431.0,1179.4 432.6,1178.7 433.8,1178.7 435.0,1176.8 436.1,1177.1 437.3,1174.0 437.9,1174.8 438.5,1175.2 439.1,1176.8 439.7,1179.6" fill="none" stroke="#2018b0" stroke-width="1.1" stroke-linejoin="round" stroke-linecap="round"/>
<polyline points="213.7,1212.7 214.6,1212.2 215.5,1208.3 216.4,1206.8 217.3,1205.5 219.1,1208.1 220.8,1210.4 222.4,1209.2 223.9,1209.6 225.5,1206.3 227.1,1207.3 228.7,1211.4 230.3,1210.8 231.9,1211.6 233.4,1209.4 235.0,1207.9 235.5,1209.7 236.0,1210.4 236.5,1214.8 237.0,1214.9 237.5,1215.3 238.0,1217.1 238.5,1218.2 239.7,1215.3 240.9,1217.0 242.1,1214.2 243.7,1215.2 245.2,1212.9 246.8,1213.2 248.2,1211.0 249.6,1209.6 251.1,1212.2 252.5,1211.2 253.9,1208.5 255.9,1210.7 256.0,1209.1 256.2,1205.8 256.3,1205.6 256.4,1205.7 256.6,1202.6 256.7,1203.0 256.8,1199.0 257.0,1198.2 257.1,1198.2 257.2,1195.0 257.4,1194.0 257.5,1194.8 257.6,1192.0 257.8,1191.9 257.9,1188.5 258.0,1186.9 258.2,1186.3 258.3,1184.3 260.1,1188.5 261.8,1187.1 262.6,1189.7 263.4,1189.6 264.2,1192.7 264.6,1190.8 264.9,1189.4 265.2,1186.7 265.6,1185.5 265.9,1186.8 266.3,1183.6 266.6,1181.8 267.0,1180.1 267.3,1179.1 267.7,1177.5 269.4,1178.5 271.2,1182.6 273.0,1179.6 274.8,1177.2 275.2,1177.9 275.6,1174.2 276.0,1173.5 276.3,1174.2 276.7,1170.2 277.1,1170.0 278.9,1169.7 280.7,1167.9 281.9,1163.9 283.0,1163.2 284.2,1163.1 285.4,1160.3 287.2,1161.9 289.0,1158.5 290.8,1161.9 292.5,1160.8 294.1,1159.8 295.6,1160.6 297.2,1159.4 298.6,1161.8 300.0,1160.3 301.5,1163.0 302.9,1162.0 304.3,1161.4 305.9,1161.3 307.4,1163.1 309.0,1162.0 310.4,1164.8 311.8,1162.1 313.3,1163.9 314.7,1164.2 316.1,1163.4 317.7,1166.1 319.2,1165.5 320.8,1167.3 322.0,1168.4 323.1,1168.9 324.3,1170.7 325.5,1171.0 327.1,1172.1 328.7,1175.5 330.3,1174.2 331.9,1174.8 333.4,1171.9 335.0,1172.8 336.6,1172.4 338.1,1173.3 339.7,1172.9 341.3,1171.7 342.8,1172.2 344.4,1171.6 346.0,1171.5 347.5,1174.2 349.1,1172.9 350.5,1173.3 351.9,1175.3 353.3,1174.7 354.7,1175.2 356.1,1174.6 357.5,1171.4 359.0,1171.5 360.4,1170.1 361.8,1172.1 363.2,1171.8 364.6,1170.4 366.1,1170.3 367.5,1171.0 368.9,1171.0 370.3,1169.0 371.7,1171.0 373.2,1168.9 374.6,1169.7 376.0,1167.8 377.4,1167.4 378.8,1170.4 380.2,1169.6 381.6,1169.4 383.0,1166.8 384.6,1166.5 386.2,1166.7 387.8,1167.8" fill="none" stroke="#e040e0" stroke-width="1.1" stroke-linejoin="round" stroke-linecap="round"/>
<path class="g1" d="M795 0L520 0L520 990Q420 900 146 820L146 1070Q420 1160 570 1409L795 1409Z" transform="translate(319.41,232.60) scale(0.00903,-0.00903)"/>
<path class="g1" d="M795 0L520 0L520 990Q420 900 146 820L146 1070Q420 1160 570 1409L795 1409Z" transform="translate(389.02,261.00) scale(0.00684,-0.00684)"/>
<path class="g1" d="M795 0L520 0L520 990Q420 900 146 820L146 1070Q420 1160 570 1409L795 1409Z" transform="translate(320.41,564.00) scale(0.00903,-0.00903)"/>
<path class="g1" d="M795 0L520 0L520 990Q420 900 146 820L146 1070Q420 1160 570 1409L795 1409Z" transform="translate(389.83,592.00) scale(0.00684,-0.00684)"/>
<path class="g1" d="M795 0L520 0L520 990Q420 900 146 820L146 1070Q420 1160 570 1409L795 1409Z" transform="translate(99.41,641.00) scale(0.00942,-0.00942)"/>
<path class="g1" d="M795 0L520 0L520 990Q420 900 146 820L146 1070Q420 1160 570 1409L795 1409Z" transform="translate(447.21,654.30) scale(0.00659,-0.00659)"/>
<path class="g1" d="M795 0L520 0L520 990Q420 900 146 820L146 1070Q420 1160 570 1409L795 1409Z" transform="translate(447.49,786.00) scale(0.00659,-0.00659)"/>
<path class="g1" d="M795 0L520 0L520 990Q420 900 146 820L146 1070Q420 1160 570 1409L795 1409Z" transform="translate(242.30,926.60) scale(0.00903,-0.00903)"/>
<path class="g1" d="M795 0L520 0L520 990Q420 900 146 820L146 1070Q420 1160 570 1409L795 1409Z" transform="translate(103.32,992.20) scale(0.00903,-0.00903)"/>
<path class="g1" d="M795 0L520 0L520 990Q420 900 146 820L146 1070Q420 1160 570 1409L795 1409Z" transform="translate(444.21,1002.80) scale(0.00659,-0.00659)"/>
<path class="g1" d="M795 0L520 0L520 990Q420 900 146 820L146 1070Q420 1160 570 1409L795 1409Z" transform="translate(443.99,1123.70) scale(0.00659,-0.00659)"/>
<path class="g1" d="M795 0L520 0L520 990Q420 900 146 820L146 1070Q420 1160 570 1409L795 1409Z" transform="translate(232.00,1250.50) scale(0.00903,-0.00903)"/>
</svg>
</body></html>
